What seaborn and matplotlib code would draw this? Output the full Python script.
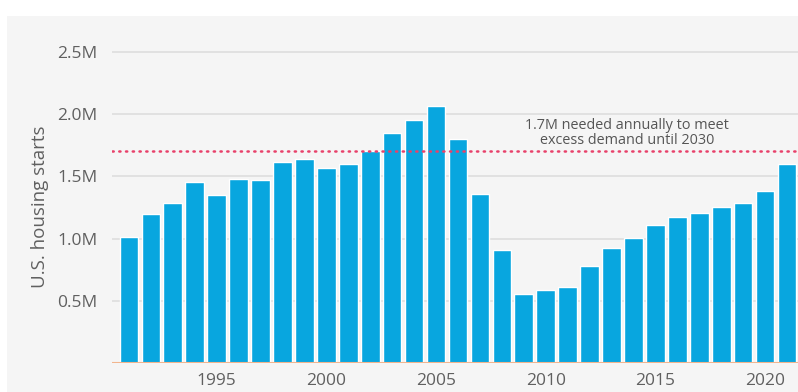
import matplotlib
matplotlib.use("Agg")
import matplotlib.pyplot as plt
import seaborn as sns
import pandas as pd
from matplotlib.patches import Rectangle
from matplotlib.ticker import FuncFormatter

# U.S. housing starts, millions of units per year
years = list(range(1991, 2022))
starts = [1.013, 1.198, 1.288, 1.457, 1.354, 1.477, 1.474, 1.617, 1.641, 1.569,
          1.603, 1.705, 1.848, 1.956, 2.068, 1.801, 1.355, 0.906, 0.554, 0.587,
          0.609, 0.781, 0.925, 1.003, 1.112, 1.174, 1.203, 1.250, 1.290, 1.380,
          1.601]
y_ticks = [0.5, 1.0, 1.5, 2.0, 2.5]
x_ticks = [1995, 2000, 2005, 2010, 2015, 2020]
needed = 1.7
note = "1.7M needed annually to meet\nexcess demand until 2030"

df = pd.DataFrame({"year": years, "starts": starts})

sns.set_theme(style="white")
plt.rcParams["font.family"] = ["Open Sans", "DejaVu Sans"]

W, H = 798, 392
fig = plt.figure(figsize=(W / 100, H / 100), dpi=100, facecolor="white")

# light grey panel behind the chart
fig.patches.append(Rectangle((7 / W, 0), 1 - 7 / W, 1 - 15.5 / H,
                             transform=fig.transFigure, facecolor="#f5f5f5",
                             edgecolor="none", zorder=-10))

ax_top, ax_bottom = 15.5, 363
ax = fig.add_axes([112 / W, (H - ax_bottom) / H, (W - 112) / W,
                   (ax_bottom - ax_top) / H])
ax.set_facecolor("none")

sns.barplot(data=df, x="year", y="starts", native_scale=True, width=0.85,
            color="#08a6df", saturation=1, ax=ax, zorder=3)

ax.set_xlim(1990.23, 2021.5)
ax.set_ylim(0, 2.793)

ax.set_yticks(y_ticks)
ax.yaxis.set_major_formatter(FuncFormatter(lambda v, p: f"{v:.1f}M"))
ax.set_xticks(x_ticks)
ax.set_xticklabels([str(x) for x in x_ticks])
ax.tick_params(axis="both", length=0, labelsize=12.5, colors="#606060")
ax.tick_params(axis="y", pad=10.5)
ax.tick_params(axis="x", pad=7)

ax.grid(axis="y", color="#dedede", linewidth=1.2, zorder=0)
for s in ax.spines.values():
    s.set_visible(False)
ax.axhline(0, color="#f2b58e", linewidth=1.5, zorder=4)

# annual requirement line
ax.axhline(needed, color="#e8416a", linestyle=(0, (0.5, 2.2)), linewidth=1.8,
           dash_capstyle="round", zorder=5)
ax.text(2013.7, 1.73, note, ha="center", va="bottom", fontsize=10.4,
        color="#555555", linespacing=1.0, zorder=6)

ax.set_xlabel("")
ax.set_ylabel("U.S. housing starts", fontsize=13.5, color="#606060")
ax.yaxis.set_label_coords(-63 / (W - 112), (ax_bottom - 207) / (ax_bottom - ax_top))

fig.savefig("out.png", dpi=100, facecolor="white")
